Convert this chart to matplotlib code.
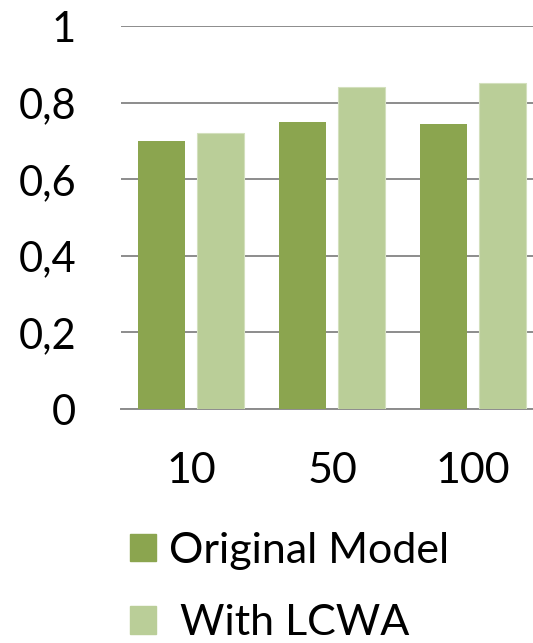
import numpy as np
import matplotlib.pyplot as plt
from matplotlib.patches import Patch

plt.rcParams['font.family'] = ['Lato', 'DejaVu Sans']

# scores per sample size
categories = ['10', '50', '100']
original_model = [0.70, 0.75, 0.745]
with_lcwa = [0.72, 0.84, 0.85]
y_ticks = [0, 0.2, 0.4, 0.6, 0.8, 1]
y_tick_labels = ['0', '0,2', '0,4', '0,6', '0,8', '1']

dark_green = '#8ba54f'
light_green = '#bace98'

fig = plt.figure(figsize=(5.33, 6.43), dpi=100)
ax = fig.add_axes([0.2265, 0.3639, 0.7936, 0.5956])

x = np.arange(len(categories))
w = 0.333
ax.bar(x - 0.208, original_model, w, color=dark_green, zorder=3)
ax.bar(x + 0.208, with_lcwa, w, color=light_green, edgecolor='#d3e0bd', linewidth=0.8, zorder=3)

ax.set_xlim(-0.5, 2.5)
ax.set_ylim(0, 1)
ax.set_yticks(y_ticks)
ax.set_yticklabels(y_tick_labels)
ax.set_xticks(x)
ax.set_xticklabels(categories)
ax.grid(axis='y', color='#8c8c8c', linewidth=1.4, zorder=0)
ax.tick_params(axis='y', length=0, pad=32, labelsize=30)
ax.tick_params(axis='x', length=0, pad=31, labelsize=31)
for side in ['top', 'right', 'left']:
    ax.spines[side].set_visible(False)
ax.spines['bottom'].set_color('#8c8c8c')
ax.spines['bottom'].set_linewidth(1.4)

handles = [Patch(color=dark_green), Patch(color=light_green)]
fig.legend(handles, ['Original Model', ' With LCWA'], loc='upper left',
           bbox_to_anchor=(0.244, 0.173), frameon=False, fontsize=31,
           handlelength=0.6, handleheight=0.6, handletextpad=0.3,
           labelspacing=0.8, borderpad=0, borderaxespad=0)

fig.savefig('out.png', dpi=100)
